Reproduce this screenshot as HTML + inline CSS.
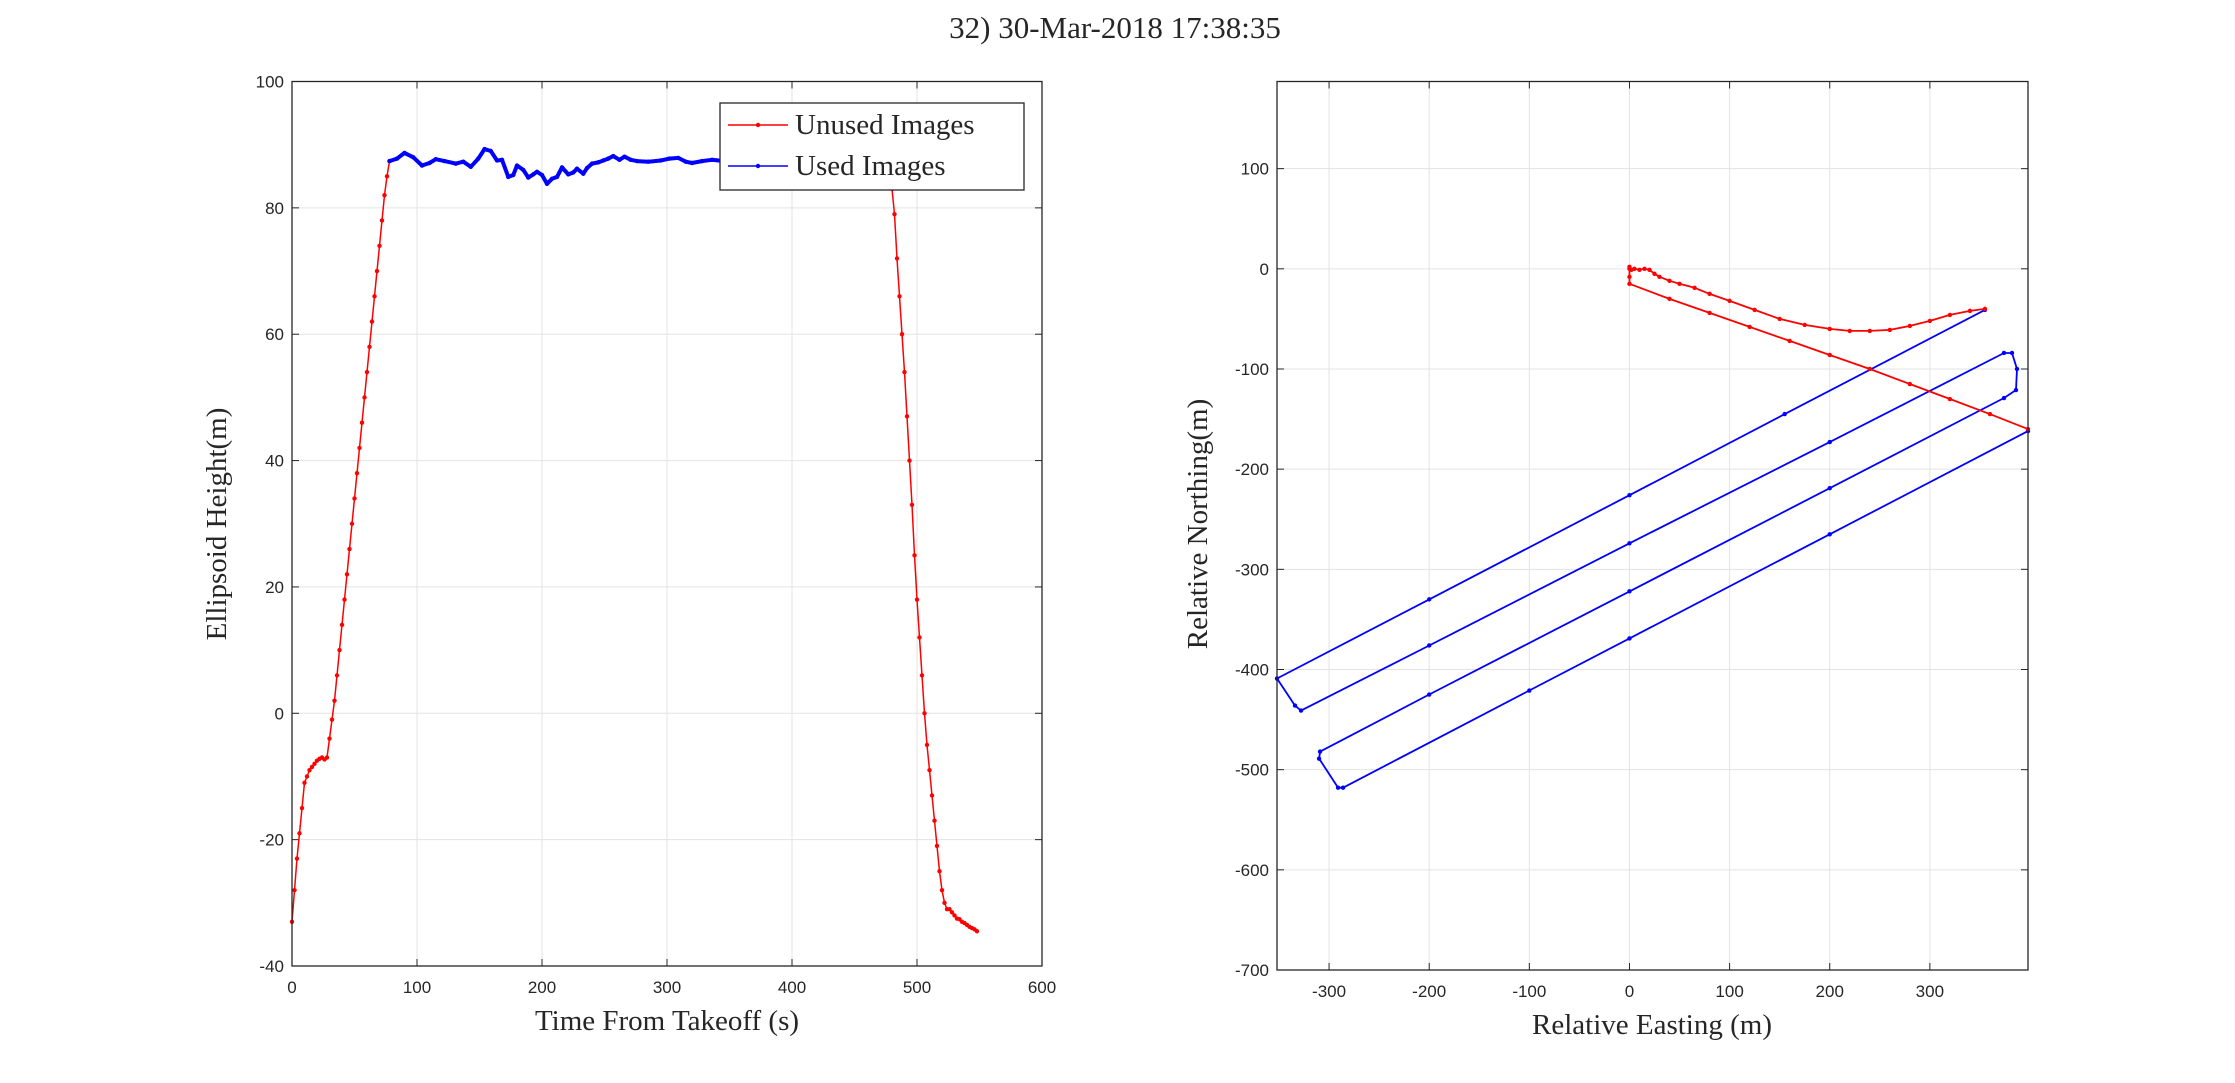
<!DOCTYPE html>
<html><head><meta charset="utf-8"><style>
html,body{margin:0;padding:0;background:#fff;}
svg{display:block;}
.tick{font-family:"Liberation Sans",sans-serif;font-size:17px;fill:#262626;}
.lab{font-family:"Liberation Serif",serif;font-size:29px;fill:#262626;}
</style></head><body>
<svg id="fig" width="2235" height="1083" viewBox="0 0 2235 1083" xmlns="http://www.w3.org/2000/svg">
<text x="1115" y="38" text-anchor="middle" class="lab" style="font-size:31px">32) 30-Mar-2018 17:38:35</text>
<g id="left"></g>
<g id="right"></g>
</svg>
<script>
// ---- Left chart data ----
const ascentT = [0,2,4,6,8,10,12,14,16,18,20,22,24,26,28,30,32,34,36,38,40,42,44,46,48,50,52,54,56,58,60,62,64,66,68,70,72,74,76,78];
const ascentH = [-33,-28,-23,-19,-15,-11,-10,-9,-8.5,-8,-7.5,-7.2,-7,-7.3,-7,-4,-1,2,6,10,14,18,22,26,30,34,38,42,46,50,54,58,62,66,70,74,78,82,85,87.4];
const usedT = [78,84,90,97,104,110,115,122,131,137,143,149,154,159,164,168,173,177,180,185,189,193,196,200,204,208,212,216,221,225,228,233,236,240,245,249,253,257,262,266,271,276,285,295,302,309,315,320,328,336,350,370,390,410,430,450,465,478];
const usedH = [87.4,87.8,88.7,88,86.7,87.1,87.7,87.4,87,87.3,86.5,87.8,89.3,89,87.5,87.6,84.9,85.2,86.7,86,84.8,85.3,85.7,85.2,83.8,84.6,84.9,86.4,85.3,85.6,86.2,85.4,86.3,87,87.2,87.5,87.8,88.2,87.6,88.1,87.6,87.4,87.3,87.5,87.8,87.9,87.3,87.1,87.4,87.6,87.3,87.2,87.1,87.2,87,87.1,87.2,87];
const descentT = [478,480,482,484,486,488,490,492,494,496,498,500,502,504,506,508,510,512,514,516,518,520,522,524,526,528,530,532,534,536,538,540,542,544,546,548];
const descentH = [87,83,79,72,66,60,54,47,40,33,25,18,12,6,0,-5,-9,-13,-17,-21,-25,-28,-30,-31,-31,-31.5,-32,-32.5,-32.6,-33,-33.2,-33.5,-33.8,-34,-34.2,-34.5];
const leftXTicks = [0,100,200,300,400,500,600];
const leftYTicks = [-40,-20,0,20,40,60,80,100];
// ---- Right chart data ----
const outE = [0,2,5,10,15,20,25,30,40,50,65,80,100,125,150,175,200,220,240,260,280,300,320,340,355];
const outN = [0,-1,0,-1,0,-1,-5,-8,-12,-15,-19,-25,-32,-41,-50,-56,-60,-62,-62,-61,-57,-52,-46,-42,-40];
const backE = [398,360,320,280,240,200,160,120,80,40,0,0,0];
const backN = [-160,-145,-130,-115,-100,-86,-72,-58,-44,-30,-15,-8,2];
const blueE = [355,155,0,-200,-352,-334,-328,-200,0,200,374,382,387,386,374,200,0,-200,-309,-310,-291,-286,-100,0,200,398];
const blueN = [-41,-145,-226,-330,-409,-436,-441,-376,-274,-173,-84,-84,-100,-121,-129,-219,-322,-425,-482,-489,-518,-518,-421,-369,-265,-162];
const rightXTicks = [-300,-200,-100,0,100,200,300];
const rightYTicks = [-700,-600,-500,-400,-300,-200,-100,0,100];

const NS="http://www.w3.org/2000/svg";
function mk(tag,attrs,parent){const e=document.createElementNS(NS,tag);for(const k in attrs)e.setAttribute(k,attrs[k]);parent.appendChild(e);return e;}

function axes(g,box,xd,yd,xt,yt){
  const sx=v=>box.x0+(v-xd[0])/(xd[1]-xd[0])*(box.x1-box.x0);
  const sy=v=>box.y1-(v-yd[0])/(yd[1]-yd[0])*(box.y1-box.y0);
  const bg=mk('rect',{x:box.x0,y:box.y0,width:box.x1-box.x0,height:box.y1-box.y0,fill:'#fff'},g);
  
  
  xt.forEach(v=>{const x=sx(v);
    const l=mk('line',{x1:x,x2:x,y1:box.y0,y2:box.y1,stroke:'#e3e3e3','stroke-width':1},g);
    
    
    mk('line',{x1:x,x2:x,y1:box.y1,y2:box.y1-7,stroke:'#262626'},g);
    mk('line',{x1:x,x2:x,y1:box.y0,y2:box.y0+7,stroke:'#262626'},g);
    const t=mk('text',{x:x,y:box.y1+27,'text-anchor':'middle',class:'tick'},g);t.textContent=v;
    
    
  });
  yt.forEach(v=>{const y=sy(v);
    const l=mk('line',{x1:box.x0,x2:box.x1,y1:y,y2:y,stroke:'#e3e3e3','stroke-width':1},g);
    
    
    mk('line',{x1:box.x0,x2:box.x0+7,y1:y,y2:y,stroke:'#262626'},g);
    mk('line',{x1:box.x1,x2:box.x1-7,y1:y,y2:y,stroke:'#262626'},g);
    const t=mk('text',{x:box.x0-8,y:y+6,'text-anchor':'end',class:'tick'},g);t.textContent=v;
    
    
  });
  return {sx,sy};
}
function frame(g,box){
  const f=mk('rect',{x:box.x0,y:box.y0,width:box.x1-box.x0,height:box.y1-box.y0,fill:'none',stroke:'#262626','stroke-width':1.3},g);
  
  
}
function series(g,xs,ys,sx,sy,color,w,name){
  const pts=xs.map((x,i)=>sx(x).toFixed(1)+','+sy(ys[i]).toFixed(1)).join(' ');
  const p=mk('polyline',{points:pts,fill:'none',stroke:color,'stroke-width':w,'stroke-linejoin':'round'},g);
  
  
  xs.forEach((x,i)=>{
    const c=mk('circle',{cx:sx(x),cy:sy(ys[i]),r:2.2,fill:color},g);
    
    
  });
}
// Left
const gl=document.getElementById('left');
const lb={x0:292,x1:1042,y0:81.5,y1:966};
const L=axes(gl,lb,[0,600],[-40,100],leftXTicks,leftYTicks);
series(gl,ascentT,ascentH,L.sx,L.sy,'#ff0000',1.5,'unused-ascent-line');
series(gl,usedT,usedH,L.sx,L.sy,'#0000ff',4,'used-images-line');
series(gl,descentT,descentH,L.sx,L.sy,'#ff0000',1.5,'unused-descent-line');
frame(gl,lb);
let t=mk('text',{x:667,y:1030,'text-anchor':'middle',class:'lab'},gl);t.textContent='Time From Takeoff (s)';


t=mk('text',{x:0,y:0,'text-anchor':'middle',class:'lab',transform:'translate(226,524) rotate(-90)'},gl);t.textContent='Ellipsoid Height(m)';


// Legend
const lg=mk('g',{},gl);


mk('rect',{x:720,y:103,width:304,height:87,fill:'#fff',stroke:'#262626','stroke-width':1.3},lg);
mk('line',{x1:728,x2:788,y1:125,y2:125,stroke:'#ff0000','stroke-width':1.5},lg);
mk('circle',{cx:758,cy:125,r:2.2,fill:'#ff0000'},lg);
mk('line',{x1:728,x2:788,y1:166,y2:166,stroke:'#0000ff','stroke-width':1.5},lg);
mk('circle',{cx:758,cy:166,r:2.2,fill:'#0000ff'},lg);
t=mk('text',{x:795,y:134,class:'lab'},lg);t.textContent='Unused Images';


t=mk('text',{x:795,y:175,class:'lab'},lg);t.textContent='Used Images';


// Right
const gr=document.getElementById('right');
const rb={x0:1277,x1:2028,y0:81.5,y1:970};
const R=axes(gr,rb,[-352,398],[-700,187],rightXTicks,rightYTicks);
series(gr,blueE,blueN,R.sx,R.sy,'#0000ff',1.8,'used-track-line');
series(gr,outE,outN,R.sx,R.sy,'#ff0000',1.8,'unused-outbound-track');
series(gr,backE,backN,R.sx,R.sy,'#ff0000',1.8,'unused-return-track');
frame(gr,rb);
t=mk('text',{x:1652,y:1034,'text-anchor':'middle',class:'lab'},gr);t.textContent='Relative Easting (m)';


t=mk('text',{x:0,y:0,'text-anchor':'middle',class:'lab',transform:'translate(1207,524) rotate(-90)'},gr);t.textContent='Relative Northing(m)';


</script>
</body></html>
